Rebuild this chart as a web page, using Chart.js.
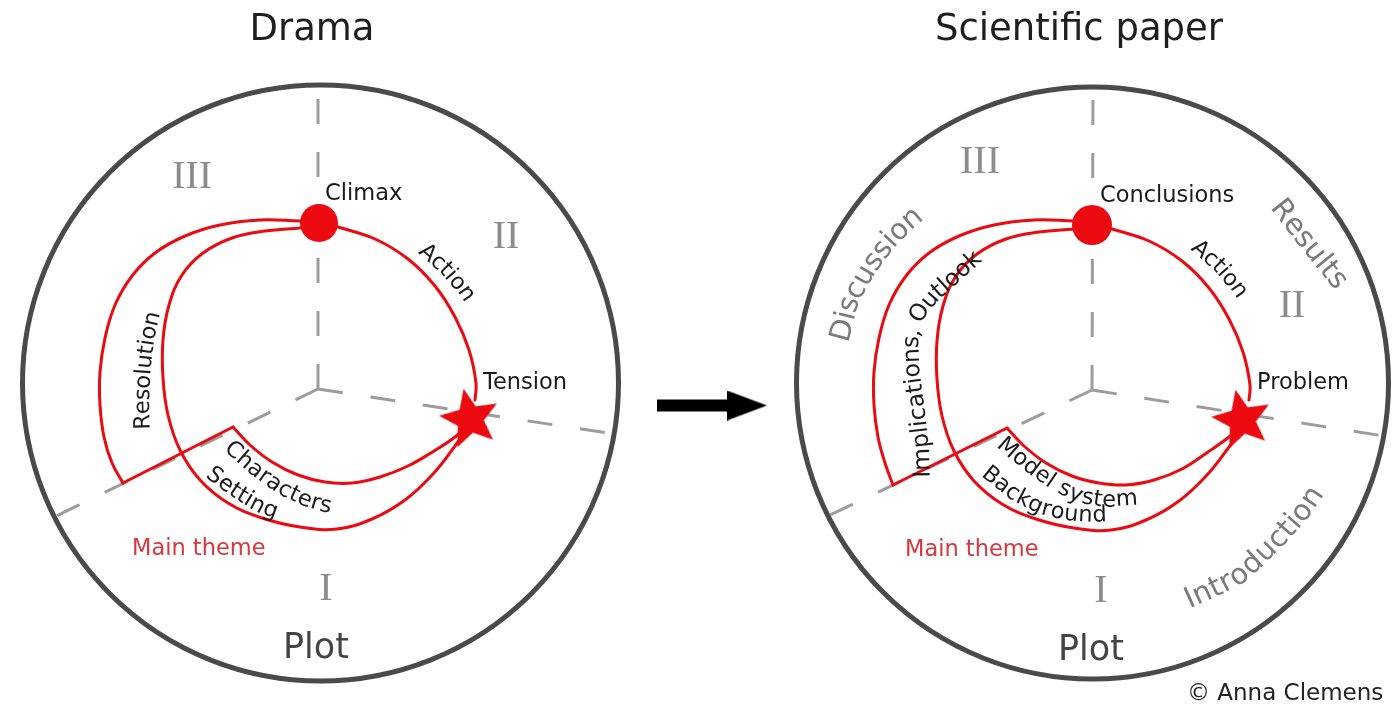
<!DOCTYPE html>
<html><head><meta charset="utf-8">
<script src="https://cdn.jsdelivr.net/npm/chart.js@4.4.1/dist/chart.umd.min.js"></script>
<style>html,body{margin:0;padding:0;background:#fff;overflow:hidden}#wrap{position:relative;width:1395px;height:705px}</style>
</head><body><div id="wrap"><canvas id="c" width="1395" height="705"></canvas></div>
<script>
// ---------- values (x to the right, y downward) ----------
const ringCenters = [[320.5, 383], [1092.5, 383]];
const ringRadii = [298, 296];

const axisLines = [
  [[318, 389], [318, 90]], [[318, 389], [52, 518]], [[318, 389], [614, 434]],
  [[1092, 390], [1093, 90]], [[1092, 390], [828, 516]], [[1092, 390], [1384, 436]]
];

// Drama (left)
const dramaOuterArc = [[300,221],[260,220],[220,225],[185,236],[155,253],[132,276],[115,305],[105,338],[100,372],[100,405],[104,437],[112,463],[123,483]];
const dramaCorner = [[123,483],[233,427]];
const dramaInnerBand = [[233,427],[250,445],[272,462],[298,475],[325,482],[352,483],[380,477],[408,466],[434,451],[455,437],[466,426]];
const dramaInnerArc = [[300,228],[265,231],[232,238],[203,253],[182,275],[169,305],[163,340],[163,378],[168,415],[180,450],[200,480],[228,503],[262,518],[300,527],[337,529],[372,519],[405,500],[433,474],[455,446],[466,430]];
const dramaAction = [[338,227],[375,239],[408,259],[435,286],[455,317],[469,350],[476,383],[475,400]];

// Scientific paper (right)
const paperOuterArc = [[1074,221],[1034,220],[994,225],[959,236],[929,253],[906,276],[889,305],[879,338],[874,372],[874,405],[878,437],[885,463],[893,485]];
const paperCorner = [[893,485],[1007,428]];
const paperInnerBand = [[1007,428],[1024,446],[1046,463],[1072,476],[1099,483],[1126,485],[1154,480],[1182,469],[1208,452],[1229,437],[1240,427]];
const paperInnerArc = [[1074,229],[1039,232],[1006,239],[977,254],[956,276],[943,306],[937,341],[937,379],[942,416],[954,451],[974,481],[1002,504],[1036,519],[1074,528],[1111,530],[1146,520],[1179,501],[1207,475],[1229,447],[1240,431]];
const paperAction = [[1112,229],[1149,241],[1182,261],[1209,288],[1229,319],[1243,352],[1250,385],[1249,400]];

const climaxPoints = [[319, 223], [1092, 225]];
const climaxRadii = [19, 20];
const starPoints = [[470, 419], [1242, 420]];
const arrowShaft = [[657, 405.5], [731, 405.5]];
const arrowTip = [[747, 405.5]];

// Text
const plainLabels = [
  ['Drama', 312, 40, 'title'], ['Scientific paper', 1079, 40, 'title'],
  ['Climax', 325, 200, 'label'], ['Tension', 483, 389, 'label'],
  ['Conclusions', 1100, 202, 'label'], ['Problem', 1257, 389, 'label'],
  ['Main theme', 132, 555, 'theme'], ['Main theme', 905, 556, 'theme'],
  ['III', 192, 188, 'roman'], ['II', 506, 248, 'roman'], ['I', 326, 600, 'roman'],
  ['III', 980, 173, 'roman'], ['II', 1292, 317, 'roman'], ['I', 1101, 602, 'roman'],
  ['Plot', 316, 658, 'plot'], ['Plot', 1091, 660, 'plot'],
  ['\u00A9 Anna Clemens', 1187, 700, 'credit']
];
const pathLabels = [
  ['Resolution', [[145,450],[144,436],[143,400],[145,365],[149,335],[156,305],[161,290]], 0.488, 'curve'],
  ['Action', [[405,235],[426,252],[445,269],[465,292],[480,318]], 0.5, 'curve'],
  ['Characters', [[212,433],[230,448],[255,470],[280,488],[305,500],[325,506],[345,508]], 0.52, 'curve'],
  ['Setting', [[200,465],[215,477],[237,493],[260,507],[280,514],[300,518]], 0.446, 'curve'],
  ['Action', [[1177,231],[1198,248],[1218,266],[1238,289],[1253,315]], 0.5, 'curve'],
  ['Implications, Outlook', [[924,500],[923,450],[918,405],[913,368],[912,340],[918,316],[933,297],[953,279],[973,261],[993,243],[1008,232]], 0.475, 'curveL'],
  ['Model system', [[990,432],[1007,448],[1030,467],[1055,485],[1080,497],[1105,501],[1135,499],[1150,496]], 0.504, 'curve'],
  ['Background', [[975,463],[993,478],[1015,495],[1040,508],[1065,514],[1090,516],[1115,515]], 0.512, 'curve'],
  ['Discussion', [[836,355],[843,333],[851,300],[868,270],[888,243],[908,223],[926,208],[943,196]], 0.463, 'section'],
  ['Results', [[1264,190],[1279,207],[1302,237],[1322,262],[1339,283],[1352,302]], 0.49, 'section'],
  ['Introduction', [[1170,609],[1188,601],[1217,588],[1240,576],[1261,557],[1285,533],[1303,512],[1318,490]], 0.545, 'section']
];

// ---------- styles ----------
const RED = '#ea0a10';
const textStyles = {
  title:  { font: '37px "DejaVu Sans"', color: '#1e1e1e', align: 'center' },
  label:  { font: '22.5px "DejaVu Sans"', color: '#1a1a1a', align: 'left' },
  theme:  { font: '22.5px "DejaVu Sans"', color: '#d9363e', align: 'left' },
  roman:  { font: '40px "Liberation Serif"', color: '#8c8c8c', align: 'center' },
  plot:   { font: '35px "DejaVu Sans"', color: '#444444', align: 'center' },
  credit: { font: '23px "DejaVu Sans"', color: '#222222', align: 'left' },
  curve:  { font: '22.5px "DejaVu Sans"', color: '#1a1a1a' },
  curveL: { font: '23.5px "DejaVu Sans"', color: '#1a1a1a' },
  section:{ font: '29px "DejaVu Sans"', color: '#7a7a7a' }
};

const pts = a => a.map(p => ({ x: p[0], y: p[1] }));

function makeStar(R, r, color) {
  const c = document.createElement('canvas');
  c.width = c.height = Math.ceil(2 * R + 4);
  const g = c.getContext('2d');
  const m = c.width / 2;
  g.beginPath();
  for (let i = 0; i < 10; i++) {
    const rad = i % 2 === 0 ? R : r;
    const a = -Math.PI / 2 + i * Math.PI / 5;
    const X = m + rad * Math.cos(a), Y = m + rad * Math.sin(a);
    i === 0 ? g.moveTo(X, Y) : g.lineTo(X, Y);
  }
  g.closePath(); g.fillStyle = color; g.fill();
  return c;
}
function makeHead(w, h, color) {
  const c = document.createElement('canvas');
  c.width = w; c.height = h;
  const g = c.getContext('2d');
  g.beginPath(); g.moveTo(0, 0); g.lineTo(w, h / 2); g.lineTo(0, h); g.closePath();
  g.fillStyle = color; g.fill();
  return c;
}

function redLine(arr, label) {
  return { label, data: pts(arr), showLine: true, borderColor: RED, borderWidth: 3, tension: 0.4,
           pointRadius: 0, borderCapStyle: 'round', borderJoinStyle: 'round', order: 30, clip: false };
}

const datasets = [];
datasets.push({ label: 'rings', data: pts(ringCenters), showLine: false, pointRadius: ringRadii,
  pointBorderWidth: 5, pointBorderColor: '#4a4a4a', pointBackgroundColor: 'rgba(0,0,0,0)', order: 50, clip: false });
axisLines.forEach((a, i) => datasets.push({ label: 'axis' + i, data: pts(a), showLine: true, borderColor: '#9c9c9c',
  borderWidth: 3, borderDash: [25, 28], pointRadius: 0, tension: 0, order: 40, clip: false }));
[dramaOuterArc, dramaInnerBand, dramaInnerArc, dramaAction, paperOuterArc, paperInnerBand, paperInnerArc, paperAction]
  .forEach((a, i) => datasets.push(redLine(a, 'red' + i)));
[dramaCorner, paperCorner].forEach((a, i) => { const d = redLine(a, 'corner' + i); d.tension = 0; datasets.push(d); });
datasets.push({ label: 'climax', data: pts(climaxPoints), showLine: false, pointRadius: climaxRadii,
  pointBackgroundColor: RED, pointBorderWidth: 0, order: 20, clip: false });
datasets.push({ label: 'tension', data: pts(starPoints), showLine: false, pointRadius: 30,
  pointStyle: makeStar(31, 14, RED), pointRotation: -12, order: 10, clip: false });
datasets.push({ label: 'arrow', data: pts(arrowShaft), showLine: true, borderColor: '#000', borderWidth: 12,
  borderCapStyle: 'butt', pointRadius: 0, tension: 0, order: 5, clip: false });
datasets.push({ label: 'arrowHead', data: pts(arrowTip), showLine: false, pointRadius: 20,
  pointStyle: makeHead(40, 30, '#000'), order: 4, clip: false });

function drawOnPath(ctx, text, p, frac) {
  const cum = [0];
  for (let i = 1; i < p.length; i++) cum.push(cum[i - 1] + Math.hypot(p[i][0] - p[i - 1][0], p[i][1] - p[i - 1][1]));
  const total = cum[cum.length - 1];
  const at = s => {
    s = Math.max(0, Math.min(total, s));
    let i = 1; while (i < p.length - 1 && cum[i] < s) i++;
    const t = (s - cum[i - 1]) / ((cum[i] - cum[i - 1]) || 1);
    return [p[i - 1][0] + (p[i][0] - p[i - 1][0]) * t, p[i - 1][1] + (p[i][1] - p[i - 1][1]) * t];
  };
  const w = ctx.measureText(text).width;
  let s = total * frac - w / 2;
  ctx.textAlign = 'center'; ctx.textBaseline = 'middle';
  for (const ch of text) {
    const cw = ctx.measureText(ch).width;
    const m = s + cw / 2;
    const q = at(m), a0 = at(m - 8), a1 = at(m + 8);
    const ang = Math.atan2(a1[1] - a0[1], a1[0] - a0[0]);
    ctx.save(); ctx.translate(q[0], q[1]); ctx.rotate(ang); ctx.fillText(ch, 0, 0); ctx.restore();
    s += cw;
  }
}

const textPlugin = {
  id: 'diagramText',
  afterDatasetsDraw(chart) {
    const { ctx, scales: { x, y } } = chart;
    const px = v => x.getPixelForValue(v), py = v => y.getPixelForValue(v);
    ctx.save();
    for (const [t, lx, ly, k] of plainLabels) {
      const st = textStyles[k];
      ctx.font = st.font; ctx.fillStyle = st.color; ctx.textAlign = st.align; ctx.textBaseline = 'alphabetic';
      ctx.fillText(t, px(lx), py(ly));
    }
    for (const [t, path, frac, k] of pathLabels) {
      const st = textStyles[k];
      ctx.font = st.font; ctx.fillStyle = st.color;
      drawOnPath(ctx, t, path.map(q => [px(q[0]), py(q[1])]), frac);
    }
    ctx.restore();
  }
};

new Chart(document.getElementById('c'), {
  type: 'scatter',
  data: { datasets },
  options: {
    responsive: false, animation: false, events: [],
    layout: { padding: 0, autoPadding: false },
    scales: {
      x: { type: 'linear', min: 0, max: 1395, display: false },
      y: { type: 'linear', min: 0, max: 705, reverse: true, display: false }
    },
    plugins: { legend: { display: false }, tooltip: { enabled: false } }
  },
  plugins: [textPlugin]
});
</script></body></html>
